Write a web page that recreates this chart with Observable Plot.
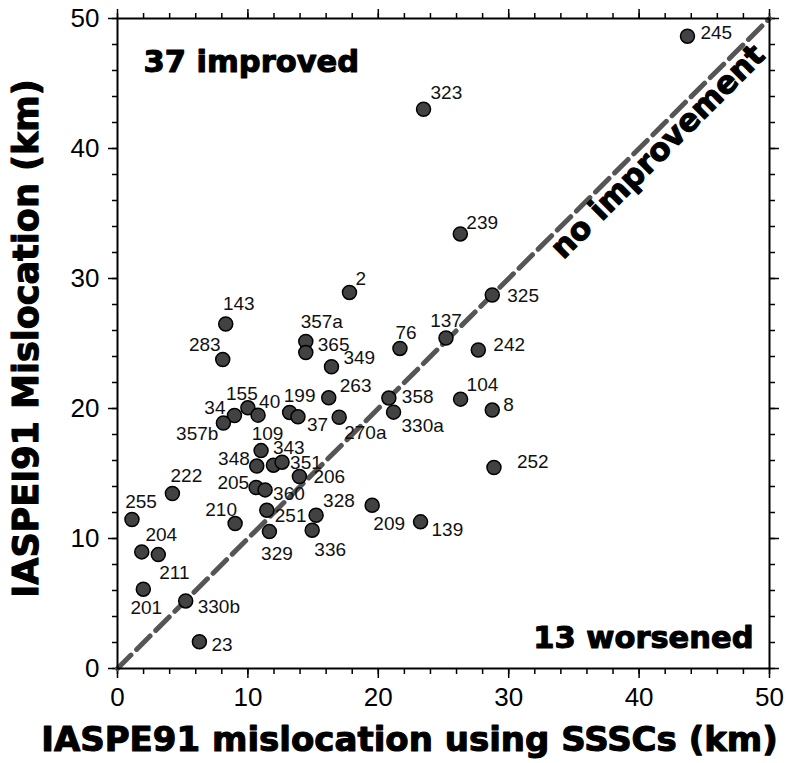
<!DOCTYPE html>
<html>
<head>
<meta charset="utf-8">
<script src="https://cdn.jsdelivr.net/npm/d3@7"></script>
<script src="https://cdn.jsdelivr.net/npm/@observablehq/plot@0.6"></script>
<style>
  html, body { margin: 0; padding: 0; background: #fff; }
</style>
</head>
<body>
<div id="chart"></div>
<script>
// Event identifiers
const ids = ["143","283","357a","365","349","263","155","40","34","357b",
  "199","37","270a","109","348","343","351","206","2","222",
  "255","204","211","201","330b","23","210","205","360","251",
  "329","328","336","209","76","137","242","358","330a","104",
  "8","252","139","245","323","239","325"];
// IASPE91 mislocation using SSSCs (km)
const ssscMisloc = [8.30,8.07,14.44,14.44,16.41,16.20,10.00,10.78,8.97,8.12,
  13.20,13.84,17.00,11.01,10.68,11.96,12.62,13.95,17.79,4.21,
  1.11,1.86,3.13,1.98,5.23,6.28,9.02,10.63,11.32,11.45,
  11.65,15.23,14.93,19.53,21.66,25.19,27.67,20.81,21.17,26.31,
  28.74,28.87,23.24,43.71,23.47,26.29,28.74];
// IASPEI91 mislocation (km)
const iaspeiMisloc = [26.50,23.77,25.16,24.31,23.21,20.82,20.05,19.49,19.46,18.88,
  19.70,19.36,19.33,16.76,15.57,15.64,15.87,14.77,28.93,13.46,
  11.46,8.97,8.76,6.10,5.20,2.06,11.15,13.92,13.74,12.18,
  10.53,11.79,10.64,12.55,24.62,25.42,24.50,20.80,19.72,20.72,
  19.88,15.46,11.28,48.64,43.02,33.43,28.73];
const majorTicks = [0,10,20,30,40,50];
const minorTicks = d3.range(0, 51, 2);

// label placement (anchor, dx, dy in px) — style only
const labelPlacement = {
  "143":["middle",13,-20],"283":["middle",-18,-15],"357a":["middle",16,-20],
  "365":["start",12,-8],"349":["start",12,-9],"263":["start",11,-12],
  "155":["middle",-6,-14],"40":["start",1,-13],"34":["end",-9,-8],
  "357b":["end",-5,11],"199":["middle",10,-16],"37":["start",9,8],
  "270a":["start",5,16],"109":["middle",6.5,-16.5],"348":["end",-7,-7],
  "343":["start",-0.5,-17],"351":["start",8,0.5],"206":["start",14,0],
  "205":["end",-7,-5],"360":["start",8,4],"210":["middle",-14,-14],
  "251":["start",8,6],"329":["middle",7.5,22],"336":["middle",18,19.5],
  "328":["start",7,-14],"209":["middle",17,19],"139":["start",11,8],
  "222":["middle",14,-18],"255":["middle",9,-18],"204":["middle",19.5,-17],
  "211":["middle",16,18.5],"201":["middle",3,19],"330b":["start",12,6],
  "23":["start",12,3],"76":["middle",6,-16],"137":["middle",0,-17],
  "242":["start",15,-5],"358":["start",13,-1.5],"330a":["start",8,14],
  "104":["start",6,-14.6],"8":["start",11,-5],"252":["start",23,-6],
  "245":["start",13,-3],"323":["start",7,-16],"239":["start",6,-11],
  "325":["start",15,1],"2":["start",6,-14]
};

const rows = ids.map((id, i) => ({id, x: ssscMisloc[i], y: iaspeiMisloc[i]}));
const domain = [0, 50];
const bold = "'DejaVu Sans', sans-serif";
const sans = "'Liberation Sans', Arial, Helvetica, sans-serif";
const heavy = {fontWeight: "bold", fontFamily: bold, fill: "black", stroke: "black", strokeWidth: 1.1, paintOrder: "stroke"};

const labelMarks = rows.map(r => {
  const [anchor, dx, dy] = labelPlacement[r.id];
  return Plot.text([r], {x: "x", y: "y", text: "id", textAnchor: anchor, lineAnchor: "middle",
    dx, dy, fontSize: 19, fontFamily: sans, fill: "#111"});
});

const axisCommon = {label: null, stroke: "black", strokeWidth: 1.5};

const chart = Plot.plot({
  width: 787,
  height: 763,
  marginLeft: 117,
  marginRight: 18,
  marginTop: 18,
  marginBottom: 95,
  style: {background: "#fff", fontFamily: sans, color: "black"},
  x: {domain, label: null},
  y: {domain, label: null},
  marks: [
    // minor ticks
    Plot.axisX(minorTicks, {...axisCommon, anchor: "bottom", tickSize: 6, text: null}),
    Plot.axisX(minorTicks, {...axisCommon, anchor: "top", tickSize: 6, text: null}),
    Plot.axisY(minorTicks, {...axisCommon, anchor: "left", tickSize: 5, text: null}),
    Plot.axisY(minorTicks, {...axisCommon, anchor: "right", tickSize: 5, text: null}),
    // major ticks
    Plot.axisX(majorTicks, {...axisCommon, anchor: "bottom", tickSize: 10, tickPadding: 9, fontSize: 26, fontFamily: sans}),
    Plot.axisX(majorTicks, {...axisCommon, anchor: "top", tickSize: 10, text: null}),
    Plot.axisY(majorTicks, {...axisCommon, anchor: "left", tickSize: 9, tickPadding: 9, fontSize: 26, fontFamily: sans}),
    Plot.axisY(majorTicks, {...axisCommon, anchor: "right", tickSize: 9, text: null}),
    // 1:1 line
    Plot.line([[domain[0], domain[0]], [domain[1], domain[1]]], {
      x: d => d[0], y: d => d[1], stroke: "#555", strokeWidth: 5, strokeDasharray: "19,8"
    }),
    Plot.frame({stroke: "black", strokeWidth: 2}),
    // points
    Plot.dot(rows, {x: "x", y: "y", r: 7, fill: "#424242", stroke: "#000", strokeWidth: 1.5}),
    ...labelMarks,
    // annotations
    Plot.text(["37 improved"], {frameAnchor: "top-left", textAnchor: "start", lineAnchor: "bottom",
      dx: 26, dy: 53, fontSize: 30.5, ...heavy}),
    Plot.text(["13 worsened"], {frameAnchor: "bottom-right", textAnchor: "end", lineAnchor: "bottom",
      dx: -16, dy: -20.5, fontSize: 30.5, ...heavy}),
    Plot.text(["no improvement"], {x: () => 40.6, y: () => 40.6, rotate: -45, textAnchor: "middle",
      lineAnchor: "middle", dx: 11, dy: 11, fontSize: 31, ...heavy}),
    // axis titles
    Plot.text(["IASPE91 mislocation using SSSCs (km)"], {frameAnchor: "bottom", textAnchor: "middle",
      lineAnchor: "bottom", dx: -34, dy: 82, fontSize: 34, ...heavy}),
    Plot.text(["IASPEI91 Mislocation (km)"], {frameAnchor: "left", textAnchor: "middle", rotate: -90,
      lineAnchor: "bottom", dx: -80, dy: -5, fontSize: 35, ...heavy})
  ]
});
document.getElementById("chart").append(chart);
</script>
</body>
</html>
